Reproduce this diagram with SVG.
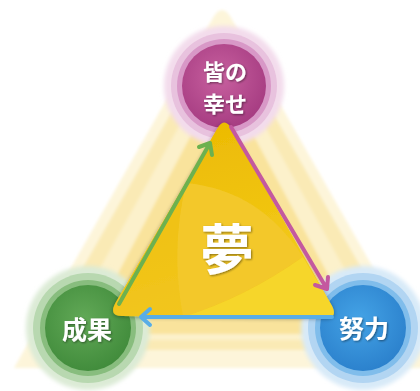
<svg xmlns="http://www.w3.org/2000/svg" width="420" height="391" viewBox="0 0 420 391">
<defs>
<style>
.lbl{font-family:"Noto Sans CJK JP","Noto Sans CJK SC",sans-serif;font-weight:bold;fill:#fff;text-anchor:middle;}
.arr{fill:none;stroke-width:4;stroke-linecap:round;stroke-linejoin:round;}
</style>
<radialGradient id="gp" cx="0.45" cy="0.4" r="0.65"><stop offset="0" stop-color="#c8609f"/><stop offset="1" stop-color="#a43a80"/></radialGradient>
<radialGradient id="gg" cx="0.45" cy="0.4" r="0.65"><stop offset="0" stop-color="#62a957"/><stop offset="1" stop-color="#3f8a3a"/></radialGradient>
<radialGradient id="gb" cx="0.45" cy="0.4" r="0.65"><stop offset="0" stop-color="#44a3e6"/><stop offset="1" stop-color="#2a7fcb"/></radialGradient>
<linearGradient id="tri" x1="0" y1="0" x2="0.3" y2="1"><stop offset="0" stop-color="#ebb800"/><stop offset="1" stop-color="#f4cc1c"/></linearGradient>
<filter id="sh" x="-20%" y="-20%" width="140%" height="140%"><feGaussianBlur in="SourceAlpha" stdDeviation="2"/><feOffset dx="0" dy="1"/><feComponentTransfer><feFuncA type="linear" slope="0.35"/></feComponentTransfer><feMerge><feMergeNode/><feMergeNode in="SourceGraphic"/></feMerge></filter>
<filter id="ts" x="-20%" y="-20%" width="140%" height="140%"><feGaussianBlur in="SourceAlpha" stdDeviation="1.2"/><feOffset dx="0.5" dy="1"/><feComponentTransfer><feFuncA type="linear" slope="0.45"/></feComponentTransfer><feMerge><feMergeNode/><feMergeNode in="SourceGraphic"/></feMerge></filter>
<filter id="bl"><feGaussianBlur stdDeviation="2"/></filter>
<filter id="bg"><feGaussianBlur stdDeviation="1.5"/></filter>
</defs>
<rect width="420" height="391" fill="#fff"/>
<g id="background" filter="url(#bg)">
<path d="M214,16 Q222,4 230,16 L430,368 L14,368 Z" fill="#fdf5da"/>
<path d="M215,36 Q222,26 229,36 L408,350 L36,350 Z" fill="#faeab5"/>
<path d="M216,60 Q222,52 228,60 L384,340 L60,340 Z" fill="#fcf1cb"/>
<path d="M217,86 Q222,79 227,86 L360,334 L86,334 Z" fill="#f9e39c"/>
</g>
<g id="node-top">
<circle cx="224" cy="86" r="60" fill="#f3dcec" filter="url(#bl)"/>
<circle cx="224" cy="86" r="53" fill="#e8c2de"/>
<circle cx="224" cy="86" r="47" fill="#d898c7"/>
<circle cx="224" cy="86" r="42" fill="url(#gp)"/>
<text class="lbl" x="225" y="80" font-size="22" filter="url(#ts)">皆の</text>
<text class="lbl" x="225" y="112" font-size="22" filter="url(#ts)">幸せ</text>
</g>
<g id="node-left">
<circle cx="88" cy="328" r="62" fill="#dcebd6" filter="url(#bl)"/>
<circle cx="88" cy="328" r="55" fill="#b8d8b0"/>
<circle cx="88" cy="328" r="48" fill="#88bd7e"/>
<circle cx="88" cy="328" r="43" fill="url(#gg)"/>
</g>
<g id="node-right">
<circle cx="363" cy="328" r="62" fill="#d8eaf8" filter="url(#bl)"/>
<circle cx="363" cy="328" r="55" fill="#b2d5f2"/>
<circle cx="363" cy="328" r="48" fill="#80bdeb"/>
<circle cx="363" cy="328" r="43" fill="url(#gb)"/>
</g>
<g id="node-center" filter="url(#sh)">
<path d="M217,129 Q224,116 232,129 L332,306 Q338,318 325,318 L122,316 Q108,316 116,302 Z" fill="url(#tri)"/>
<path d="M186,183 Q260,190 303,257 Q245,298 183,317 Q170,250 186,183 Z" fill="#f3c82a"/>
<path d="M303,257 Q245,298 183,317 L325,318 Q338,318 332,306 Z" fill="#f6d72d" opacity="0.9"/>
<path d="M186,183 Q170,250 183,317 L122,316 Q108,316 116,302 L186,183 Z" fill="#f0c21c" opacity="0.6"/>
<text class="lbl" x="227" y="270" font-size="54" filter="url(#ts)">夢</text>
</g>
<g id="connectors">
<path class="arr" stroke="#6db14f" d="M119,304 L210,143 M199,147 L210,143 L212,155"/>
<path class="arr" stroke="#c4589f" d="M231,127 L327,289 M315,285 L327,289 L328,277"/>
<path class="arr" stroke="#58ade6" d="M332,317 L141,317 M150,309 L141,317 L150,325"/>
</g>
<g id="labels-bottom">
<text class="lbl" x="87" y="339" font-size="25" filter="url(#ts)">成果</text>
<text class="lbl" x="364" y="338" font-size="25" filter="url(#ts)">努力</text>
</g>
</svg>
